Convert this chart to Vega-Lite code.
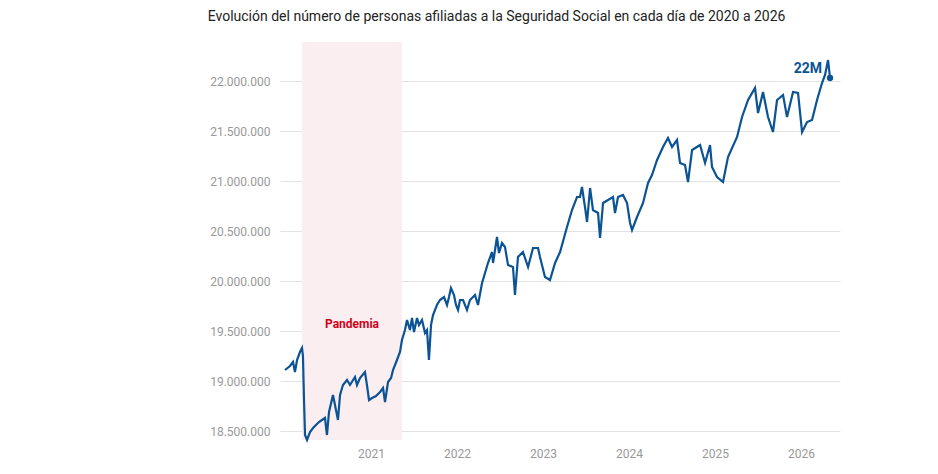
{
  "$schema": "https://vega.github.io/schema/vega-lite/v6.json",
  "width": 560,
  "height": 398,
  "autosize": "none",
  "padding": {"left": 280, "top": 42, "right": 98, "bottom": 34},
  "config": {
    "font": "Roboto",
    "view": {"stroke": null},
    "locale": {"number": {"decimal": ",", "thousands": ".", "grouping": [3], "currency": ["", " €"]}}
  },
  "title": {
    "text": "Evolución del número de personas afiliadas a la Seguridad Social en cada día de 2020 a 2026",
    "anchor": "start",
    "dx": -2,
    "offset": 18,
    "fontSize": 14,
    "fontWeight": "normal",
    "color": "#222"
  },
  "datasets": {
    "band": [{"start": 2020.198, "end": 2021.36}],
    "series": [
      {"t": 2020.000, "v": 19.11}, {"t": 2020.058, "v": 19.15}, {"t": 2020.093, "v": 19.19},
      {"t": 2020.116, "v": 19.09}, {"t": 2020.140, "v": 19.21}, {"t": 2020.174, "v": 19.29},
      {"t": 2020.198, "v": 19.33}, {"t": 2020.209, "v": 19.25}, {"t": 2020.221, "v": 18.81},
      {"t": 2020.233, "v": 18.46}, {"t": 2020.256, "v": 18.41}, {"t": 2020.291, "v": 18.49},
      {"t": 2020.326, "v": 18.53}, {"t": 2020.360, "v": 18.56}, {"t": 2020.395, "v": 18.59},
      {"t": 2020.430, "v": 18.61}, {"t": 2020.465, "v": 18.63}, {"t": 2020.488, "v": 18.46},
      {"t": 2020.512, "v": 18.69}, {"t": 2020.558, "v": 18.86}, {"t": 2020.593, "v": 18.71},
      {"t": 2020.616, "v": 18.61}, {"t": 2020.640, "v": 18.86}, {"t": 2020.674, "v": 18.96},
      {"t": 2020.721, "v": 19.01}, {"t": 2020.756, "v": 18.96}, {"t": 2020.814, "v": 19.04},
      {"t": 2020.837, "v": 18.96}, {"t": 2020.872, "v": 19.03}, {"t": 2020.930, "v": 19.09},
      {"t": 2020.953, "v": 18.96}, {"t": 2020.977, "v": 18.81}, {"t": 2021.012, "v": 18.83},
      {"t": 2021.058, "v": 18.85}, {"t": 2021.105, "v": 18.89}, {"t": 2021.140, "v": 18.93},
      {"t": 2021.163, "v": 18.79}, {"t": 2021.198, "v": 18.99}, {"t": 2021.233, "v": 19.03},
      {"t": 2021.256, "v": 19.11}, {"t": 2021.302, "v": 19.21}, {"t": 2021.337, "v": 19.29},
      {"t": 2021.360, "v": 19.41}, {"t": 2021.395, "v": 19.51}, {"t": 2021.419, "v": 19.61},
      {"t": 2021.453, "v": 19.51}, {"t": 2021.477, "v": 19.63}, {"t": 2021.500, "v": 19.49},
      {"t": 2021.535, "v": 19.63}, {"t": 2021.558, "v": 19.56}, {"t": 2021.593, "v": 19.61},
      {"t": 2021.628, "v": 19.48}, {"t": 2021.651, "v": 19.51}, {"t": 2021.674, "v": 19.21},
      {"t": 2021.698, "v": 19.56}, {"t": 2021.721, "v": 19.66}, {"t": 2021.767, "v": 19.76},
      {"t": 2021.802, "v": 19.81}, {"t": 2021.849, "v": 19.84}, {"t": 2021.884, "v": 19.76},
      {"t": 2021.907, "v": 19.84}, {"t": 2021.930, "v": 19.93}, {"t": 2021.965, "v": 19.86},
      {"t": 2021.988, "v": 19.76}, {"t": 2022.012, "v": 19.71}, {"t": 2022.035, "v": 19.81},
      {"t": 2022.070, "v": 19.81}, {"t": 2022.116, "v": 19.71}, {"t": 2022.151, "v": 19.81},
      {"t": 2022.209, "v": 19.86}, {"t": 2022.244, "v": 19.76}, {"t": 2022.291, "v": 19.98},
      {"t": 2022.360, "v": 20.18}, {"t": 2022.407, "v": 20.29}, {"t": 2022.419, "v": 20.18},
      {"t": 2022.465, "v": 20.44}, {"t": 2022.488, "v": 20.28}, {"t": 2022.523, "v": 20.38},
      {"t": 2022.558, "v": 20.34}, {"t": 2022.593, "v": 20.16}, {"t": 2022.651, "v": 20.14},
      {"t": 2022.674, "v": 19.86}, {"t": 2022.709, "v": 20.24}, {"t": 2022.767, "v": 20.29},
      {"t": 2022.826, "v": 20.14}, {"t": 2022.884, "v": 20.33}, {"t": 2022.942, "v": 20.33},
      {"t": 2022.965, "v": 20.24}, {"t": 2023.023, "v": 20.04}, {"t": 2023.081, "v": 20.01},
      {"t": 2023.140, "v": 20.18}, {"t": 2023.198, "v": 20.29}, {"t": 2023.279, "v": 20.54},
      {"t": 2023.337, "v": 20.71}, {"t": 2023.395, "v": 20.84}, {"t": 2023.430, "v": 20.84},
      {"t": 2023.453, "v": 20.94}, {"t": 2023.488, "v": 20.74}, {"t": 2023.512, "v": 20.59},
      {"t": 2023.547, "v": 20.93}, {"t": 2023.581, "v": 20.71}, {"t": 2023.640, "v": 20.68},
      {"t": 2023.663, "v": 20.43}, {"t": 2023.698, "v": 20.78}, {"t": 2023.756, "v": 20.81},
      {"t": 2023.814, "v": 20.84}, {"t": 2023.837, "v": 20.68}, {"t": 2023.872, "v": 20.84},
      {"t": 2023.930, "v": 20.86}, {"t": 2023.977, "v": 20.78}, {"t": 2024.012, "v": 20.58},
      {"t": 2024.035, "v": 20.51}, {"t": 2024.093, "v": 20.64}, {"t": 2024.163, "v": 20.78},
      {"t": 2024.221, "v": 20.98}, {"t": 2024.267, "v": 21.06}, {"t": 2024.326, "v": 21.21},
      {"t": 2024.395, "v": 21.34}, {"t": 2024.453, "v": 21.43}, {"t": 2024.500, "v": 21.34},
      {"t": 2024.558, "v": 21.41}, {"t": 2024.593, "v": 21.18}, {"t": 2024.651, "v": 21.16},
      {"t": 2024.686, "v": 20.99}, {"t": 2024.733, "v": 21.31}, {"t": 2024.826, "v": 21.36},
      {"t": 2024.884, "v": 21.18}, {"t": 2024.942, "v": 21.36}, {"t": 2024.965, "v": 21.14},
      {"t": 2025.023, "v": 21.04}, {"t": 2025.093, "v": 20.99}, {"t": 2025.151, "v": 21.24},
      {"t": 2025.256, "v": 21.44}, {"t": 2025.314, "v": 21.64}, {"t": 2025.384, "v": 21.81},
      {"t": 2025.465, "v": 21.93}, {"t": 2025.500, "v": 21.68}, {"t": 2025.558, "v": 21.89},
      {"t": 2025.616, "v": 21.64}, {"t": 2025.674, "v": 21.49}, {"t": 2025.721, "v": 21.81},
      {"t": 2025.791, "v": 21.86}, {"t": 2025.837, "v": 21.64}, {"t": 2025.907, "v": 21.89},
      {"t": 2025.965, "v": 21.88}, {"t": 2026.012, "v": 21.49}, {"t": 2026.070, "v": 21.59},
      {"t": 2026.128, "v": 21.61}, {"t": 2026.186, "v": 21.81}, {"t": 2026.244, "v": 21.98},
      {"t": 2026.279, "v": 22.06}, {"t": 2026.314, "v": 22.21}, {"t": 2026.337, "v": 22.03}
    ],
    "last": [{"t": 2026.337, "v": 22.03, "label": "22M"}],
    "note": [{"t": 2020.779, "v": 19.57, "label": "Pandemia"}]
  },
  "layer": [
    {
      "data": {"name": "band"},
      "mark": {"type": "rect", "color": "#fbeef0"},
      "encoding": {
        "x": {"field": "start", "type": "quantitative", "scale": {"domain": [2019.942, 2026.453], "nice": false, "zero": false}},
        "x2": {"field": "end"}
      }
    },
    {
      "data": {"name": "series"},
      "mark": {"type": "line", "color": "#0b5394", "strokeWidth": 2.2},
      "encoding": {
        "x": {
          "field": "t", "type": "quantitative", "title": null,
          "scale": {"domain": [2019.942, 2026.453], "nice": false, "zero": false},
          "axis": {"values": [2021, 2022, 2023, 2024, 2025, 2026], "format": "d", "grid": false, "domain": false, "ticks": false, "labelColor": "#999", "labelFontSize": 12, "labelPadding": 8}
        },
        "y": {
          "field": "v", "type": "quantitative", "title": null,
          "scale": {"domain": [18.41, 22.39], "nice": false, "zero": false},
          "axis": {"values": [18.5, 19, 19.5, 20, 20.5, 21, 21.5, 22], "labelExpr": "format(datum.value * 1000000, ',.0f')", "domain": false, "ticks": false, "gridColor": "#e3e3e3", "labelColor": "#999", "labelFontSize": 12, "labelPadding": 10}
        }
      }
    },
    {
      "data": {"name": "last"},
      "mark": {"type": "point", "filled": true, "color": "#0b5394", "size": 40, "opacity": 1},
      "encoding": {
        "x": {"field": "t", "type": "quantitative"},
        "y": {"field": "v", "type": "quantitative"}
      }
    },
    {
      "data": {"name": "last"},
      "mark": {"type": "text", "color": "#0b5394", "fontWeight": "bold", "fontSize": 14, "align": "right", "dx": -8, "dy": -9},
      "encoding": {
        "x": {"field": "t", "type": "quantitative"},
        "y": {"field": "v", "type": "quantitative"},
        "text": {"field": "label"}
      }
    },
    {
      "data": {"name": "note"},
      "mark": {"type": "text", "color": "#d0021b", "fontWeight": "bold", "fontSize": 12},
      "encoding": {
        "x": {"field": "t", "type": "quantitative"},
        "y": {"field": "v", "type": "quantitative"},
        "text": {"field": "label"}
      }
    }
  ]
}
